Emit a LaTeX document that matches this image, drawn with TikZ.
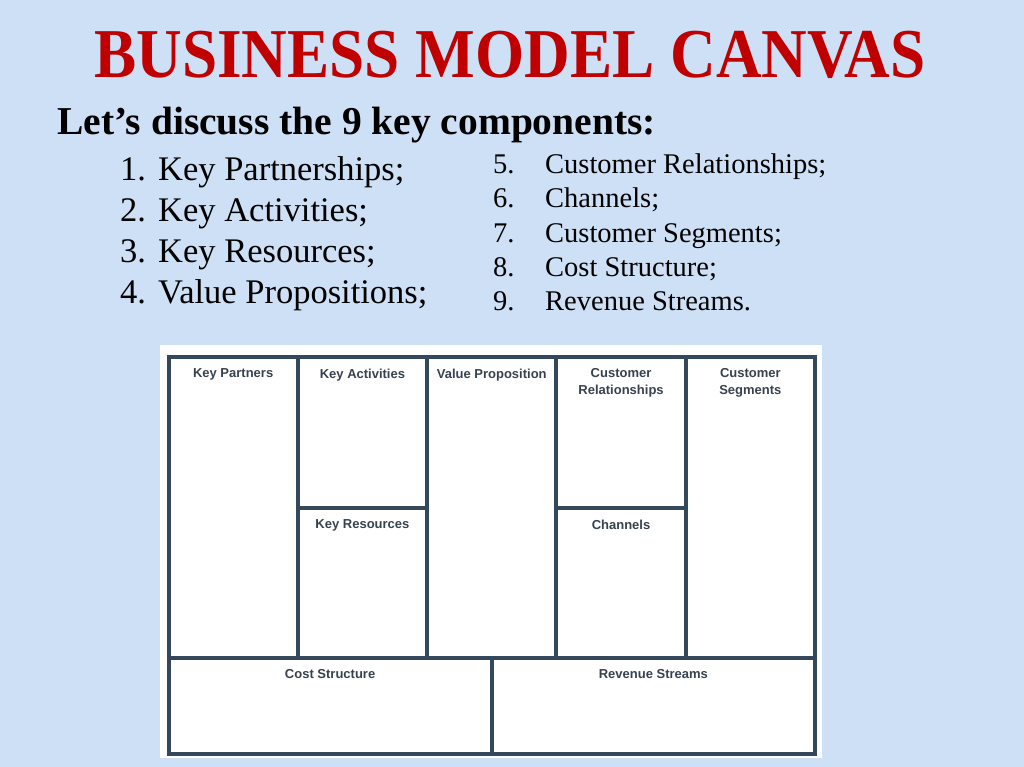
\documentclass[tikz,border=0pt]{standalone}
\usepackage{fontspec}
\setmainfont{Liberation Serif}
\newfontfamily\titlefont[FakeStretch=0.903]{Liberation Serif}
\newfontfamily\boxfont{Liberation Sans}
\usepackage{xcolor}
\usetikzlibrary{positioning}
\definecolor{slidebg}{RGB}{205,224,245}
\definecolor{titlered}{RGB}{192,0,0}
\definecolor{framecol}{RGB}{52,72,92}
\definecolor{boxtext}{RGB}{55,66,80}

\begin{document}
\begin{tikzpicture}[x=1pt, y=-1pt]
        % Define block styles
        \tikzstyle{cell} = [rectangle, draw=framecol, line width=4pt, inner sep=0pt, outer sep=0pt, anchor=north west, minimum width=129.3pt]
        \tikzstyle{tallcell} = [cell, minimum height=301pt]
        \tikzstyle{halfcell} = [cell, minimum height=150.5pt]
        \tikzstyle{widecell} = [cell, minimum width=323.25pt, minimum height=96pt]
        \tikzstyle{boxlabel} = [anchor=north, inner sep=0pt, align=center, text=boxtext, font=\boxfont\bfseries\fontsize{13}{17}\selectfont]
        \tikzstyle{leftitem} = [anchor=base west, inner sep=0pt, font=\fontsize{34.5}{41}\selectfont]
        \tikzstyle{rightitem} = [anchor=base west, inner sep=0pt, font=\fontsize{28.5}{34}\selectfont]

        % Slide background
        \useasboundingbox (0,0) rectangle (1024,767);
        \fill[slidebg] (0,0) rectangle (1024,767);
        \fill[white] (160,345) rectangle (822,758);

        % Headings
        \node[anchor=base, inner sep=0pt, text=titlered, font=\titlefont\bfseries\fontsize{70}{80}\selectfont] (title) at (510,78) {BUSINESS MODEL CANVAS};
        \node[anchor=base west, inner sep=0pt, font=\bfseries\fontsize{39.5}{46}\selectfont] (intro) at (57,135) {Let’s discuss the 9 key components:};

        % Component list
        \node[leftitem] (num1) at (120,181) {1.};
        \node[leftitem] (item1) at (158,181) {Key Partnerships;};
        \node[leftitem] (num2) at (120,221.7) {2.};
        \node[leftitem] (item2) at (158,221.7) {Key Activities;};
        \node[leftitem] (num3) at (120,262.4) {3.};
        \node[leftitem] (item3) at (158,262.4) {Key Resources;};
        \node[leftitem] (num4) at (120,303.1) {4.};
        \node[leftitem] (item4) at (158,303.1) {Value Propositions;};

        \node[rightitem] (num5) at (493,173.5) {5.};
        \node[rightitem] (item5) at (545,173.5) {Customer Relationships;};
        \node[rightitem] (num6) at (493,207.8) {6.};
        \node[rightitem] (item6) at (545,207.8) {Channels;};
        \node[rightitem] (num7) at (493,242.1) {7.};
        \node[rightitem] (item7) at (545,242.1) {Customer Segments;};
        \node[rightitem] (num8) at (493,276.4) {8.};
        \node[rightitem] (item8) at (545,276.4) {Cost Structure;};
        \node[rightitem] (num9) at (493,310.7) {9.};
        \node[rightitem] (item9) at (545,310.7) {Revenue Streams.};

        % Canvas blocks
        \node[tallcell] (KP) at (168.5,357) {};
        \node[halfcell] (KA) at (KP.north east) {};
        \node[halfcell] (KR) at (KA.south west) {};
        \node[tallcell] (VP) at (KA.north east) {};
        \node[halfcell] (CR) at (VP.north east) {};
        \node[halfcell] (CH) at (CR.south west) {};
        \node[tallcell] (CS) at (CR.north east) {};
        \node[widecell] (COST) at (KP.south west) {};
        \node[widecell] (REV) at (COST.north east) {};

        % Block titles
        \node[boxlabel, below=11.5pt of KP.north] {Key Partners};
        \node[boxlabel, below=11.5pt of KA.north] {Key Activities};
        \node[boxlabel, below=12pt of KR.north] {Key Resources};
        \node[boxlabel, below=11.5pt of VP.north] {Value Proposition};
        \node[boxlabel, below=11.5pt of CR.north] {Customer\\Relationships};
        \node[boxlabel, below=12pt of CH.north] {Channels};
        \node[boxlabel, below=11.5pt of CS.north] {Customer\\Segments};
        \node[boxlabel, below=11pt of COST.north] {Cost Structure};
        \node[boxlabel, below=11pt of REV.north] {Revenue Streams};

    \end{tikzpicture}
\end{document}
